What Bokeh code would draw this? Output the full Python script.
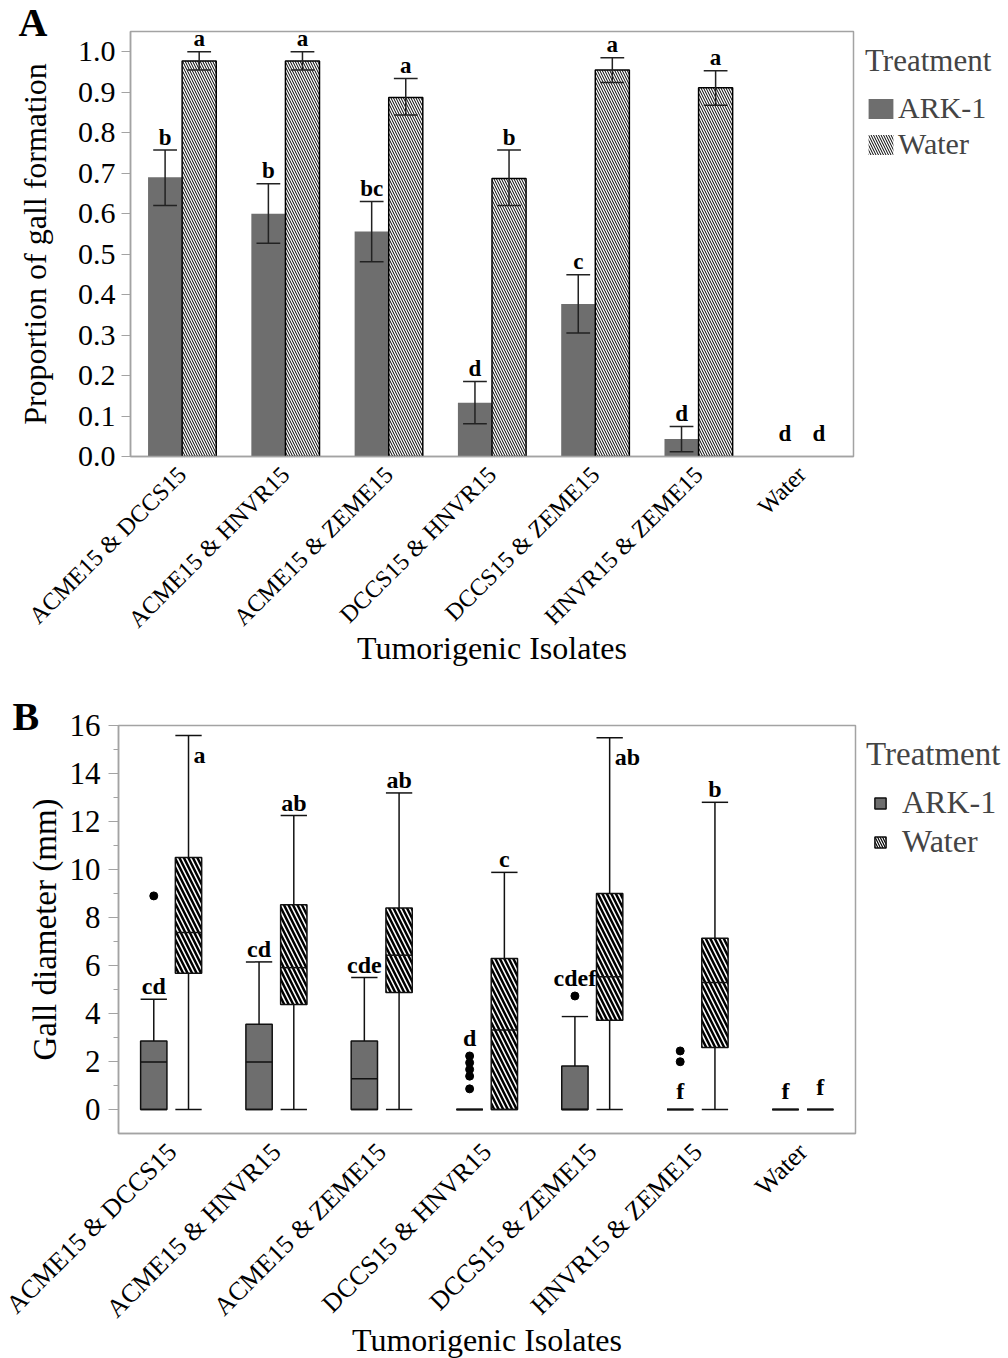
import numpy as np
from bokeh.plotting import figure
from bokeh.models import (ColumnDataSource, FactorRange, FixedTicker, Legend,
                          LegendItem, Title, NumeralTickFormatter)
from bokeh.transform import dodge
from bokeh.layouts import column
from bokeh.core.properties import value
from bokeh.embed import file_html
from bokeh.resources import INLINE

# ---------------- data ----------------
groups = ["ACME15 & DCCS15", "ACME15 & HNVR15", "ACME15 & ZEME15",
          "DCCS15 & HNVR15", "DCCS15 & ZEME15", "HNVR15 & ZEME15", "Water"]
treatments = ["ARK-1", "Water"]

# Panel A: proportion of gall formation (mean, lower / upper error)
ark_mean = [0.69, 0.60, 0.556, 0.133, 0.377, 0.043, 0.0]
ark_lo = [0.62, 0.527, 0.481, 0.081, 0.305, 0.012, 0.0]
ark_hi = [0.757, 0.674, 0.63, 0.185, 0.449, 0.074, 0.0]
ark_letters_a = ["b", "b", "bc", "d", "c", "d", "d"]
water_mean = [0.977, 0.977, 0.887, 0.687, 0.955, 0.911, 0.0]
water_lo = [0.955, 0.955, 0.844, 0.62, 0.924, 0.868, 0.0]
water_hi = [1.0, 1.0, 0.934, 0.757, 0.985, 0.953, 0.0]
water_letters_a = ["a", "a", "a", "b", "a", "a", "d"]

# Panel B: gall diameter (mm) box plots
ark_q1 = [0, 0, 0, 0, 0, 0, 0]
ark_med = [1.98, 1.98, 1.28, 0, 0, 0, 0]
ark_q3 = [2.85, 3.55, 2.85, 0, 1.81, 0, 0]
ark_wlo = [0, 0, 0, 0, 0, 0, 0]
ark_whi = [4.59, 6.15, 5.5, 0, 3.87, 0, 0]
ark_letters_b = ["cd", "cd", "cde", "d", "cdef", "f", "f"]
ark_out_groups = ["ACME15 & DCCS15", "DCCS15 & HNVR15", "DCCS15 & HNVR15",
                  "DCCS15 & HNVR15", "DCCS15 & HNVR15", "DCCS15 & HNVR15",
                  "DCCS15 & ZEME15", "HNVR15 & ZEME15", "HNVR15 & ZEME15"]
ark_out_values = [8.9, 2.23, 1.95, 1.67, 1.39, 0.86, 4.73, 2.44, 1.99]

water_q1 = [5.68, 4.38, 4.87, 0, 3.72, 2.58, 0]
water_med = [7.37, 5.91, 6.43, 3.31, 5.53, 5.29, 0]
water_q3 = [10.5, 8.53, 8.4, 6.29, 9.0, 7.14, 0]
water_wlo = [0, 0, 0, 0, 0, 0, 0]
water_whi = [15.58, 12.25, 13.19, 9.88, 15.49, 12.8, 0]
water_letters_b = ["a", "ab", "ab", "c", "ab", "b", "f"]

# ---------------- style ----------------
SERIF = "Liberation Serif"
GRAY = "#6e6e6e"
AXGRAY = "#a3a3a3"
OFF = 0.165
TXT_SHIFT = -8   # compensation of the rendered text baseline


def style(p, ytick_px, ylabel_px, xtick_px, xlabel_px):
    p.grid.visible = False
    p.outline_line_color = AXGRAY
    p.outline_line_width = 1.5
    for ax in (p.xaxis[0], p.yaxis[0]):
        ax.axis_line_color = AXGRAY
        ax.axis_line_width = 1.5
        ax.major_label_text_font = SERIF
        ax.axis_label_text_font = SERIF
        ax.axis_label_text_font_style = "normal"
        ax.axis_label_text_color = "black"
        ax.major_label_text_color = "black"
    p.yaxis.major_tick_line_color = AXGRAY
    p.yaxis.minor_tick_line_color = AXGRAY
    p.yaxis.major_tick_in = 0
    p.yaxis.minor_tick_in = 0
    p.yaxis.minor_tick_out = 5
    p.yaxis.major_label_text_font_size = f"{ytick_px}px"
    p.yaxis.axis_label_text_font_size = f"{ylabel_px}px"
    p.xaxis.major_tick_line_color = None
    p.xaxis.minor_tick_line_color = None
    p.xaxis.major_label_orientation = np.pi / 4
    p.xaxis.major_label_text_font_size = f"{xtick_px}px"
    p.xaxis.axis_label_text_font_size = f"{xlabel_px}px"


def legend(p, items, gw, gh, margin, standoff, title_px, label_px, title_standoff):
    lg = Legend(items=items, location="top_left", title="Treatment",
                title_text_font=SERIF, title_text_font_size=f"{title_px}px",
                title_text_font_style="normal", title_standoff=title_standoff,
                label_text_font=SERIF, label_text_font_size=f"{label_px}px",
                glyph_width=gw, glyph_height=gh, label_standoff=standoff,
                spacing=2, padding=0, margin=margin,
                border_line_alpha=0, background_fill_alpha=0)
    p.add_layout(lg, "right")


def panel_letter(p, letter, offset):
    p.add_layout(Title(text=letter, align="left", offset=offset, vertical_align="top",
                       standoff=-30, padding=(0, 0, 14, 0),
                       text_font=SERIF, text_font_style="bold",
                       text_font_size="40px", text_color="black"), "above")


# ---------------- Panel A ----------------
pA = figure(frame_width=723, frame_height=425, x_range=FactorRange(*groups), y_range=(0, 1.05),
            output_backend="svg", toolbar_location=None, frame_align=False,
            min_border_left=130, min_border_right=155, min_border_top=30,
            min_border_bottom=238)
style(pA, 30, 32, 24, 32)
pA.yaxis.ticker = FixedTicker(ticks=[i / 10 for i in range(11)], minor_ticks=[])
pA.yaxis.formatter = NumeralTickFormatter(format="0.0")
pA.yaxis.major_tick_out = 9
pA.yaxis.major_label_standoff = 6
pA.yaxis.axis_label_standoff = 22
pA.yaxis.axis_label = "Proportion of gall formation"
pA.xaxis.axis_label = "Tumorigenic Isolates"
pA.xaxis.major_label_standoff = 8
pA.xaxis.axis_label_standoff = -15

idx = [i for i, h in enumerate(water_hi) if h > 0]
srcA = ColumnDataSource(dict(
    cat=[groups[i] for i in idx],
    ark=[ark_mean[i] for i in idx], ark_lo=[ark_lo[i] for i in idx], ark_hi=[ark_hi[i] for i in idx],
    wat=[water_mean[i] for i in idx], wat_lo=[water_lo[i] for i in idx], wat_hi=[water_hi[i] for i in idx],
))
pA.vbar(x=dodge("cat", -OFF, range=pA.x_range), top="ark", width=0.33, source=srcA,
        fill_color=GRAY, line_color=None)
pA.vbar(x=dodge("cat", OFF, range=pA.x_range), top="wat", width=0.33, source=srcA,
        fill_color="white", line_color="black", line_width=1.5,
        hatch_pattern="\\", hatch_color="black", hatch_scale=5, hatch_weight=1)
CAP = 0.115
for off, lo, hi in ((-OFF, "ark_lo", "ark_hi"), (OFF, "wat_lo", "wat_hi")):
    pA.segment(x0=dodge("cat", off, range=pA.x_range), x1=dodge("cat", off, range=pA.x_range),
               y0=lo, y1=hi, source=srcA, line_color="#222222", line_width=1.5)
    for yv in (lo, hi):
        pA.segment(x0=dodge("cat", off - CAP, range=pA.x_range), x1=dodge("cat", off + CAP, range=pA.x_range),
                   y0=yv, y1=yv, source=srcA, line_color="#222222", line_width=1.5)

letA = ColumnDataSource(dict(cat=groups, ark_y=[max(h, 0.025) for h in ark_hi],
                             wat_y=[max(h, 0.025) for h in water_hi],
                             ark_t=ark_letters_a, wat_t=water_letters_a))
for off, yv, tv in ((-OFF, "ark_y", "ark_t"), (OFF, "wat_y", "wat_t")):
    pA.text(x=dodge("cat", off, range=pA.x_range), y=yv, text=tv, source=letA,
            text_align="center", text_baseline="alphabetic", y_offset=-5 + TXT_SHIFT,
            text_font=value(SERIF), text_font_style="bold", text_font_size="23px",
            text_color="black")

# legend proxies (zero-height, invisible in the plot area)
proxy = ColumnDataSource(dict(cat=[groups[-1]], v=[0]))
legA_ark = pA.vbar(x="cat", top="v", bottom="v", width=0.0001, source=proxy,
                   fill_color=GRAY, line_color=None)
legA_wat = pA.vbar(x="cat", top="v", bottom="v", width=0.0001, source=proxy,
                   fill_color="white", line_color=None,
                   hatch_pattern="\\", hatch_color="black", hatch_scale=5, hatch_weight=1)
legend(pA, [LegendItem(label=treatments[0], renderers=[legA_ark]),
            LegendItem(label=treatments[1], renderers=[legA_wat])],
       31, 25, 12, 2, 31, 30, 12)
panel_letter(pA, "A", -112)

# ---------------- Panel B ----------------
pB = figure(frame_width=737, frame_height=408, x_range=FactorRange(*groups), y_range=(-1, 16),
            output_backend="svg", toolbar_location=None, frame_align=False,
            min_border_left=118, min_border_right=153, min_border_top=30,
            min_border_bottom=227)
style(pB, 31, 33, 26, 32)
pB.yaxis.ticker = FixedTicker(ticks=list(range(0, 17, 2)), minor_ticks=list(range(1, 16, 2)))
pB.yaxis.major_tick_out = 10
pB.yaxis.major_label_standoff = 8
pB.yaxis.axis_label_standoff = 4
pB.yaxis.axis_label = "Gall diameter (mm)"
pB.xaxis.axis_label = "Tumorigenic Isolates"
pB.xaxis.major_label_standoff = 8
pB.xaxis.axis_label_standoff = -14

srcB = ColumnDataSource(dict(cat=groups,
                             a_q1=ark_q1, a_med=ark_med, a_q3=ark_q3, a_wlo=ark_wlo, a_whi=ark_whi,
                             w_q1=water_q1, w_med=water_med, w_q3=water_q3, w_wlo=water_wlo, w_whi=water_whi))
BW = 0.25
HB = BW / 2
for off, pre, fill, hatch in ((-OFF, "a_", GRAY, None), (OFF, "w_", "white", "\\")):
    xc = dodge("cat", off, range=pB.x_range)
    xl = dodge("cat", off - HB, range=pB.x_range)
    xr = dodge("cat", off + HB, range=pB.x_range)
    pB.segment(x0=xc, x1=xc, y0=pre + "q3", y1=pre + "whi", source=srcB, line_color="#111111", line_width=1.5)
    pB.segment(x0=xc, x1=xc, y0=pre + "q1", y1=pre + "wlo", source=srcB, line_color="#111111", line_width=1.5)
    kw = dict(hatch_pattern=hatch, hatch_color="black", hatch_scale=9, hatch_weight=2.5) if hatch else {}
    pB.vbar(x=xc, top=pre + "q3", bottom=pre + "q1", width=BW, source=srcB,
            fill_color=fill, line_color="#111111", line_width=1.5, **kw)
    for f in ("med", "whi", "wlo"):
        pB.segment(x0=xl, x1=xr, y0=pre + f, y1=pre + f, source=srcB,
                   line_color="#111111", line_width=1.5)

outB = ColumnDataSource(dict(cat=ark_out_groups, val=ark_out_values))
pB.scatter(x=dodge("cat", -OFF, range=pB.x_range), y="val", source=outB,
           size=8, marker="circle", fill_color="black", line_color="black")

# letters for panel B: above whisker, or above outliers when they sit just over the whisker
ark_anchor, ark_yoff = [], []
for g, w, q3 in zip(groups, ark_whi, ark_q3):
    outs = [v for c, v in zip(ark_out_groups, ark_out_values) if c == g and v < 6]
    if outs and max(outs) > w and (q3 > 0 or len(outs) > 2):
        ark_anchor.append(max(outs))
        ark_yoff.append(-10 + TXT_SHIFT)
    elif w == 0:
        ark_anchor.append(0.0)
        ark_yoff.append(-11 + TXT_SHIFT)
    else:
        ark_anchor.append(w)
        ark_yoff.append(-5 + TXT_SHIFT)
letB_ark = ColumnDataSource(dict(cat=groups, y=ark_anchor, yo=ark_yoff, t=ark_letters_b))
pB.text(x=dodge("cat", -OFF, range=pB.x_range), y="y", text="t", y_offset="yo", source=letB_ark,
        text_align="center", text_baseline="alphabetic",
        text_font=value(SERIF), text_font_style="bold", text_font_size="24px", text_color="black")

top_idx = [i for i, w in enumerate(water_whi) if w > 14.5]
mid_idx = [i for i, w in enumerate(water_whi) if w <= 14.5]
letB_w1 = ColumnDataSource(dict(cat=[groups[i] for i in mid_idx],
                                y=[water_whi[i] for i in mid_idx],
                                yo=[(-15 if water_whi[i] == 0 else -5) + TXT_SHIFT for i in mid_idx],
                                t=[water_letters_b[i] for i in mid_idx]))
pB.text(x=dodge("cat", OFF, range=pB.x_range), y="y", text="t", y_offset="yo", source=letB_w1,
        text_align="center", text_baseline="alphabetic",
        text_font=value(SERIF), text_font_style="bold", text_font_size="24px", text_color="black")
letB_w2 = ColumnDataSource(dict(cat=[groups[i] for i in top_idx],
                                y=[water_whi[i] for i in top_idx],
                                t=[water_letters_b[i] for i in top_idx]))
pB.text(x=dodge("cat", OFF, range=pB.x_range), y="y", text="t", source=letB_w2,
        x_offset=5, y_offset=27 + TXT_SHIFT, text_align="left", text_baseline="alphabetic",
        text_font=value(SERIF), text_font_style="bold", text_font_size="24px", text_color="black")

# legend proxies for B: small square box icons (drawn below the visible y-range)
proxyB = ColumnDataSource(dict(cat=[groups[-1]], v=[-5]))
legB_ark = pB.scatter(x="cat", y="v", source=proxyB, marker="square", size=11,
                      fill_color=GRAY, line_color="#111111", line_width=1.5)
legB_wat = pB.scatter(x="cat", y="v", source=proxyB, marker="square", size=11,
                      fill_color="white", line_color="#111111", line_width=1.5,
                      hatch_pattern="\\", hatch_color="black", hatch_scale=5, hatch_weight=1.2)
legend(pB, [LegendItem(label=treatments[0], renderers=[legB_ark]),
            LegendItem(label=treatments[1], renderers=[legB_wat])],
       28, 28, 11, 8, 33, 32, 11)
panel_letter(pB, "B", -106)

layout = column(pA, pB, spacing=0)
open("out.html", "w").write(file_html(layout, INLINE))
